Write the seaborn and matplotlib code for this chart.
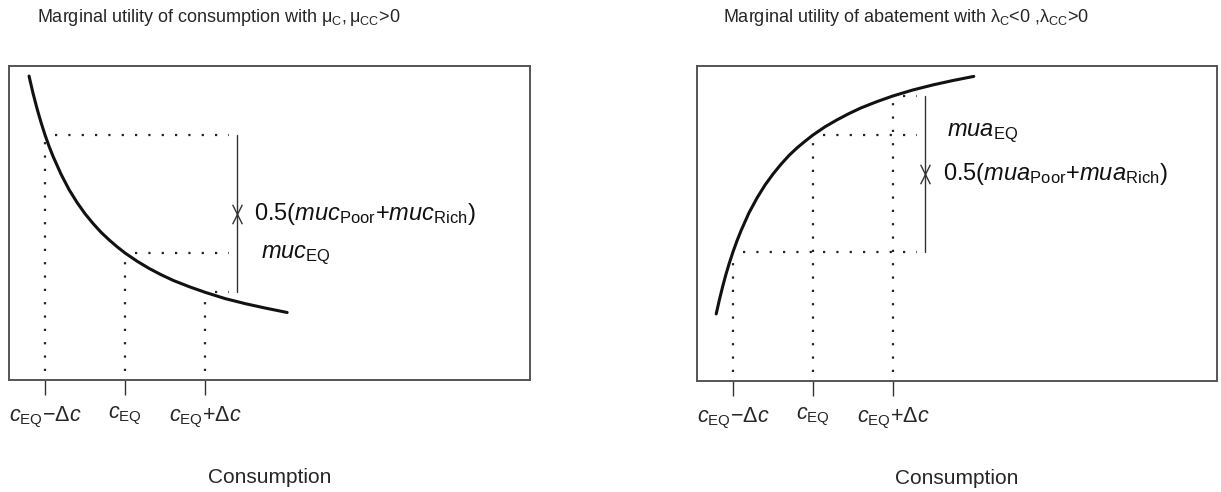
import matplotlib
matplotlib.use("Agg")
import matplotlib.pyplot as plt
from matplotlib.path import Path
import seaborn as sns

# consumption positions of the three marked points: c_EQ-dc, c_EQ, c_EQ+dc
c_points = [1.0, 2.0, 3.0]
tick_labels = [r"$c_{\rm EQ}$" + "\u2212" + r"$\Delta c$", r"$c_{\rm EQ}$", r"$c_{\rm EQ}$+$\Delta c$"]

# marginal utility of consumption (decreasing, convex)
muc_x = [0.80, 0.85, 0.90, 0.95, 1.00, 1.05, 1.10, 1.20, 1.30, 1.40, 1.50, 1.60, 1.70, 1.80, 1.90, 2.00,
         2.15, 2.30, 2.45, 2.60, 2.80, 3.00, 3.25, 3.50, 3.75, 4.02]
muc_y = [0.968, 0.913, 0.864, 0.820, 0.780, 0.744, 0.712, 0.655, 0.606, 0.565, 0.529, 0.498, 0.470,
         0.446, 0.424, 0.404, 0.378, 0.355, 0.335, 0.317, 0.297, 0.279, 0.259, 0.243, 0.229, 0.215]
muc_at_points = [0.780, 0.404, 0.279]

# marginal utility of abatement (increasing, concave)
mua_x = [0.79, 0.83, 0.87, 0.91, 0.95, 1.00, 1.05, 1.10, 1.20, 1.30, 1.40, 1.50, 1.60, 1.70, 1.80, 1.90,
         2.00, 2.15, 2.30, 2.45, 2.60, 2.80, 3.00, 3.25, 3.50, 3.75, 4.01]
mua_y = [0.213, 0.258, 0.299, 0.337, 0.371, 0.410, 0.445, 0.477, 0.534, 0.581, 0.622, 0.657, 0.688,
         0.716, 0.740, 0.761, 0.781, 0.807, 0.829, 0.849, 0.867, 0.887, 0.905, 0.924, 0.940, 0.954, 0.967]
mua_at_points = [0.410, 0.781, 0.905]

bar_x = 3.40

sns.set_style("white")
plt.rcParams["font.family"] = ["Liberation Sans", "DejaVu Sans"]
plt.rcParams["mathtext.fontset"] = "custom"
plt.rcParams["mathtext.rm"] = "Liberation Sans"
plt.rcParams["mathtext.it"] = "Liberation Sans:italic"
plt.rcParams["mathtext.sf"] = "Liberation Sans"

fig = plt.figure(figsize=(12.21, 4.92), dpi=100)
ax1 = fig.add_axes([9 / 1221, 1 - 380 / 492, 521 / 1221, 314 / 492])
ax2 = fig.add_axes([697 / 1221, 1 - 381 / 492, 520 / 1221, 315 / 492])

xmark = Path([(-0.5, -1), (0.5, 1), (-0.5, 1), (0.5, -1)],
             [Path.MOVETO, Path.LINETO, Path.MOVETO, Path.LINETO])
dot = dict(color="#222222", lw=1.6, linestyle=(0, (1, 5)))


def draw_panel(ax, cx, cy, vals, title, title_x, texts):
    sns.lineplot(x=cx, y=cy, ax=ax, color="#111111", lw=2.2, sort=False)
    for c, v in zip(c_points, vals):
        ax.plot([c, c], [0.03, v], **dot)
        ax.plot([c + 0.12, bar_x - 0.1], [v, v], **dot)
    lo, hi = min(vals[0], vals[2]), max(vals[0], vals[2])
    ax.plot([bar_x, bar_x], [lo, hi], color="#333333", lw=1.0)
    ax.plot([bar_x], [(lo + hi) / 2], marker=xmark, markersize=14,
            markeredgewidth=1.0, color="#333333", linestyle="none")
    for tx, ty, s in texts:
        ax.text(tx, ty, s, fontsize=17, va="center", ha="left", color="#111111")
    ax.set_xlim(0.55, 7.05)
    ax.set_ylim(0, 1)
    ax.set_yticks([])
    ax.set_xticks(c_points)
    ax.set_xticklabels(tick_labels, fontsize=15.5)
    ax.tick_params(axis="x", bottom=True, length=11, width=1.0, color="#333333", pad=7)
    ax.set_xlabel("Consumption", fontsize=15, labelpad=27)
    for sp in ax.spines.values():
        sp.set_color("#555555")
        sp.set_linewidth(1.4)
    fig.text(title_x, 1 - 18 / 492, title, fontsize=13, ha="center", va="center")


draw_panel(ax1, muc_x, muc_y, muc_at_points,
           r"Marginal utility of consumption with $\mathregular{\mu_{C}, \mu_{CC}}$>0",
           219 / 1221,
           [(3.61, 0.53, r"0.5($muc$$_{\rm Poor}$+$muc$$_{\rm Rich}$)"),
            (3.70, 0.398, r"$muc$$_{\rm EQ}$")])
draw_panel(ax2, mua_x, mua_y, mua_at_points,
           r"Marginal utility of abatement with $\mathregular{\lambda_{C}}$<0 ,$\mathregular{\lambda_{CC}}$>0",
           906 / 1221,
           [(3.68, 0.787, r"$mua$$_{\rm EQ}$"),
            (3.63, 0.657, r"0.5($mua$$_{\rm Poor}$+$mua$$_{\rm Rich}$)")])

fig.savefig("out.png", dpi=100)
